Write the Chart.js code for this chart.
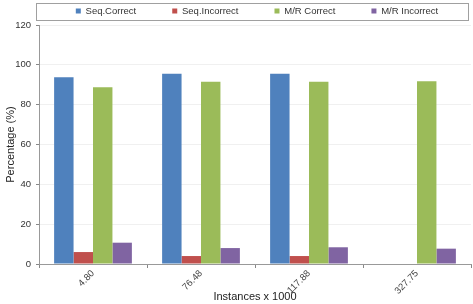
<!DOCTYPE html>
<html>
<head>
<meta charset="utf-8">
<script src="https://cdn.jsdelivr.net/npm/chart.js@4/dist/chart.umd.min.js"></script>
<style>
html,body{margin:0;padding:0;background:#fff;}
#wrap{position:relative;width:473px;height:304px;}
</style>
</head>
<body>
<div id="wrap"><canvas id="c" width="473" height="304"></canvas></div>
<script>
const categories = ["4.80", "76.48", "117.88", "327.75"];
const seqCorrect = [93.8, 95.5, 95.5, null];
const seqIncorrect = [6.0, 4.0, 4.0, null];
const mrCorrect = [88.8, 91.5, 91.5, 91.8];
const mrIncorrect = [10.7, 8.0, 8.4, 7.7];
const seriesNames = ["Seq.Correct", "Seq.Incorrect", "M/R Correct", "M/R Incorrect"];
const seriesColors = ["#4F81BD", "#C0504D", "#9BBB59", "#8064A2"];
const yTicks = [0, 20, 40, 60, 80, 100, 120];

const FONT = "'Liberation Sans', Arial, sans-serif";
const LEGEND_PAD = 36;

const legendTweak = {
  id: 'legendTweak',
  afterInit(chart) {
    const lg = chart.legend;
    const origFit = lg.fit.bind(lg);
    lg.fit = function () {
      const mw = this.maxWidth;
      this.maxWidth = 3000;
      origFit();
      this.maxWidth = mw;
      this.width = mw;
      this.height = 25;
    };
  },
  afterLayout(chart) {
    const lg = chart.legend;
    lg.top = 6.25 - LEGEND_PAD;
    lg.left = -6;
    lg.right = 520;
    lg.width = 526;
  },
  afterDraw(chart) {
    const ctx = chart.ctx;
    ctx.save();
    ctx.strokeStyle = '#a0a0a0';
    ctx.lineWidth = 1;
    ctx.strokeRect(36.5, 3.5, 432, 17);
    ctx.restore();
  }
};

const seriesData = [seqCorrect, seqIncorrect, mrCorrect, mrIncorrect];

new Chart(document.getElementById('c'), {
  type: 'bar',
  data: {
    labels: categories,
    datasets: seriesNames.map((n, i) => ({
      label: n,
      data: seriesData[i],
      backgroundColor: seriesColors[i],
      borderWidth: 0,
      categoryPercentage: 0.72,
      barPercentage: 1.0
    }))
  },
  options: {
    responsive: false,
    animation: false,
    devicePixelRatio: 1,
    layout: { padding: { left: 0, right: 2, top: 0, bottom: 0 } },
    plugins: {
      legend: {
        position: 'top',
        labels: {
          boxWidth: 5, boxHeight: 5, padding: LEGEND_PAD,
          color: '#333',
          font: { family: FONT, size: 9.5 }
        }
      },
      tooltip: { enabled: false }
    },
    scales: {
      x: {
        grid: { drawOnChartArea: false, color: '#888', tickLength: 4, offset: true },
        border: { color: '#999' },
        ticks: {
          color: '#444', font: { family: FONT, size: 9.5 },
          maxRotation: 45, minRotation: 45, padding: 0
        },
        title: {
          display: true, text: 'Instances x 1000', color: '#222',
          font: { family: FONT, size: 11 }, padding: { top: -2, bottom: 0 }
        },
        afterFit(s) { s.height = 40; }
      },
      y: {
        min: 0, max: 120,
        afterBuildTicks(s) { s.ticks = yTicks.map(v => ({ value: v })); },
        grid: { color: '#f0f0f0', tickColor: '#888', tickLength: 3 },
        border: { color: '#999' },
        ticks: { color: '#333', font: { family: FONT, size: 9.5 }, padding: 5 },
        title: {
          display: true, text: 'Percentage (%)', color: '#222',
          font: { family: FONT, size: 11 }, padding: { top: 4, bottom: 2 }
        },
        afterFit(s) { s.width = 39; }
      }
    }
  },
  plugins: [legendTweak]
});
</script>
</body>
</html>
